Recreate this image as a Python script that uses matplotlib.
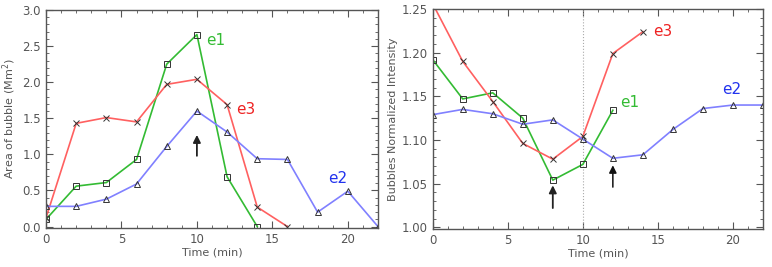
import matplotlib.pyplot as plt
from matplotlib.ticker import MultipleLocator

# tiempos (min)
t_e1_a = [0, 2, 4, 6, 8, 10, 12, 14]
t_e3_a = [0, 2, 4, 6, 8, 10, 12, 14, 16]
t_e2_a = [0, 2, 4, 6, 8, 10, 12, 14, 16, 18, 20, 22]

# area de la burbuja (Mm^2)
area_e1 = [0.10, 0.56, 0.61, 0.93, 2.25, 2.66, 0.69, 0.0]
area_e3 = [0.12, 1.43, 1.51, 1.45, 1.97, 2.04, 1.69, 0.27, 0.0]
area_e2 = [0.28, 0.28, 0.38, 0.59, 1.11, 1.60, 1.31, 0.94, 0.93, 0.20, 0.49, 0.0]

# intensidad normalizada
t_e1_b = [0, 2, 4, 6, 8, 10, 12]
t_e3_b = [0, 2, 4, 6, 8, 10, 12, 14]
t_e2_b = [0, 2, 4, 6, 8, 10, 12, 14, 16, 18, 20, 22]
int_e1 = [1.192, 1.147, 1.154, 1.125, 1.054, 1.072, 1.134]
int_e3 = [1.256, 1.190, 1.144, 1.096, 1.078, 1.104, 1.199, 1.224]
int_e2 = [1.129, 1.135, 1.130, 1.118, 1.123, 1.101, 1.079, 1.083, 1.112,
          1.136, 1.140, 1.140]

verde = '#33bb33'
rojo = '#ff6060'
azul = '#8080ff'
gris = '#555555'

fig = plt.figure(figsize=(7.72, 2.67), dpi=100)
ax1 = fig.add_axes([0.0596, 0.146, 0.430, 0.8165])
ax2 = fig.add_axes([0.5605, 0.1423, 0.4278, 0.824])

mk = dict(mfc='none', mec='#333333', ms=4, mew=0.7, lw=1.2)
flecha = dict(arrowstyle='-|>', color='#222222', lw=1.3, mutation_scale=11,
              shrinkA=0, shrinkB=0)


def estilo(ax):
    ax.tick_params(which='both', direction='in', top=True, right=True,
                   colors=gris, labelsize=8.5, labelcolor=gris)
    ax.tick_params(which='major', length=5)
    ax.tick_params(which='minor', length=2.5)
    for s in ax.spines.values():
        s.set_color(gris)
        s.set_linewidth(1.0)
    ax.set_xlabel('Time (min)', fontsize=8, color=gris, labelpad=1)


'Panel izquierdo: area'
ax1.plot(t_e1_a, area_e1, color=verde, marker='s', **mk)
ax1.plot(t_e3_a, area_e3, color=rojo, marker='x', **mk)
ax1.plot(t_e2_a, area_e2, color=azul, marker='^', **mk)
ax1.set_xlim(0, 22)
ax1.set_ylim(-0.02, 3.0)
ax1.xaxis.set_major_locator(MultipleLocator(5))
ax1.xaxis.set_minor_locator(MultipleLocator(1))
ax1.yaxis.set_major_locator(MultipleLocator(0.5))
ax1.yaxis.set_minor_locator(MultipleLocator(0.1))
ax1.yaxis.set_major_formatter(plt.FormatStrFormatter('%.1f'))
ax1.set_ylabel('Area of bubble (Mm$^2$)', fontsize=8, color=gris, labelpad=3)
estilo(ax1)
ax1.text(10.6, 2.58, 'e1', color=verde, fontsize=11, va='center')
ax1.text(12.6, 1.62, 'e3', color='#ee2222', fontsize=11, va='center')
ax1.text(18.7, 0.66, 'e2', color='#2233ee', fontsize=11, va='center')
ax1.annotate('', xy=(10, 1.27), xytext=(10, 0.98), arrowprops=flecha)

'Panel derecho: intensidad'
ax2.axvline(10, color='#aaaaaa', ls=':', lw=0.8)
ax2.plot(t_e1_b, int_e1, color=verde, marker='s', **mk)
ax2.plot(t_e3_b, int_e3, color=rojo, marker='x', **mk)
ax2.plot(t_e2_b, int_e2, color=azul, marker='^', **mk)
ax2.set_xlim(0, 22)
ax2.set_ylim(0.998, 1.25)
ax2.xaxis.set_major_locator(MultipleLocator(5))
ax2.xaxis.set_minor_locator(MultipleLocator(1))
ax2.yaxis.set_major_locator(MultipleLocator(0.05))
ax2.yaxis.set_minor_locator(MultipleLocator(0.01))
ax2.yaxis.set_major_formatter(plt.FormatStrFormatter('%.2f'))
ax2.set_ylabel('Bubbles Normalized Intensity', fontsize=8, color=gris,
               labelpad=3)
estilo(ax2)
ax2.text(14.7, 1.2246, 'e3', color='#ee2222', fontsize=11, va='center')
ax2.text(12.5, 1.143, 'e1', color=verde, fontsize=11, va='center')
ax2.text(19.3, 1.158, 'e2', color='#2233ee', fontsize=11, va='center')
ax2.annotate('', xy=(8, 1.048), xytext=(8, 1.022), arrowprops=flecha)
ax2.annotate('', xy=(12, 1.071), xytext=(12, 1.046),
             arrowprops=dict(flecha, color='#111111', lw=1.1))

plt.savefig('out.png', dpi=100)
